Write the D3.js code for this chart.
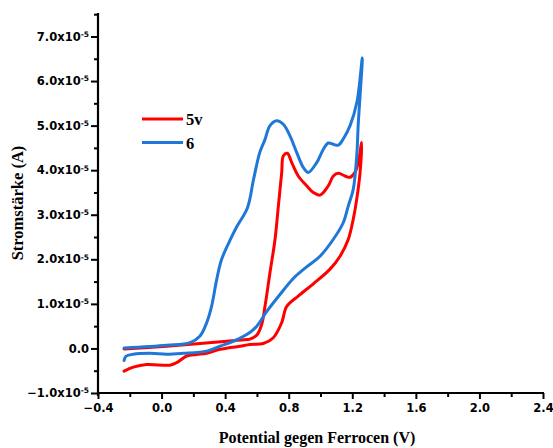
<!DOCTYPE html>
<html>
<head>
<meta charset="utf-8">
<script src="https://cdn.jsdelivr.net/npm/d3@7"></script>
<style>
  body { margin: 0; background: #fff; }
  svg { display: block; }
</style>
</head>
<body>
<div id="chart"></div>
<script>
// current values are in units of 1e-5 A
const potential5v = [-0.236, -0.178, -0.094, 0.053, 0.095, 0.158, 0.221, 0.284, 0.368, 0.493, 0.556, 0.640, 0.703, 0.756, 0.787, 0.858, 0.955, 1.060, 1.123, 1.175, 1.206, 1.228, 1.249, 1.259,
  1.238, 1.217, 1.186, 1.154, 1.112, 1.081, 1.049, 0.997, 0.955, 0.913, 0.860, 0.819, 0.791, 0.766, 0.756, 0.735, 0.714, 0.682, 0.651, 0.630, 0.600, 0.556, 0.536, 0.410, 0.242, 0.032, -0.236];
const current5v = [-0.51, -0.42, -0.36, -0.375, -0.32, -0.17, -0.135, -0.11, -0.02, 0.05, 0.09, 0.11, 0.24, 0.58, 0.94, 1.17, 1.45, 1.78, 2.07, 2.45, 2.90, 3.35, 3.95, 4.62,
  4.17, 3.95, 3.84, 3.87, 3.93, 3.87, 3.65, 3.44, 3.50, 3.65, 3.87, 4.17, 4.38, 4.32, 3.95, 3.20, 2.45, 1.70, 0.95, 0.54, 0.30, 0.21, 0.20, 0.16, 0.11, 0.05, -0.01];

const potential6 = [-0.236, -0.225, -0.178, -0.073, 0.032, 0.137, 0.284, 0.368, 0.451, 0.536, 0.599, 0.662, 0.745, 0.829, 0.913, 0.997, 1.081, 1.143, 1.175, 1.206, 1.228, 1.238, 1.249, 1.263,
  1.230, 1.186, 1.143, 1.112, 1.081, 1.049, 1.018, 0.976, 0.923, 0.892, 0.850, 0.808, 0.766, 0.724, 0.682, 0.650, 0.618, 0.578, 0.540, 0.473, 0.431, 0.378, 0.347, 0.315, 0.284, 0.242, 0.179, 0.032, -0.236];
const current6 = [-0.27, -0.18, -0.13, -0.11, -0.13, -0.11, -0.06, 0.05, 0.16, 0.31, 0.50, 0.83, 1.21, 1.57, 1.83, 2.07, 2.45, 2.82, 3.20, 3.57, 4.32, 5.07, 5.67, 6.52,
  5.54, 5.00, 4.70, 4.56, 4.58, 4.61, 4.47, 4.17, 3.95, 4.06, 4.40, 4.77, 5.03, 5.11, 5.00, 4.68, 4.40, 3.78, 3.15, 2.73, 2.43, 2.00, 1.55, 0.95, 0.58, 0.28, 0.13, 0.07, 0.01];

const seriesNames = ["5v", "6"];
const seriesColors = ["#ff0000", "#1f78d8"];

const xTicks = [-0.4, 0.0, 0.4, 0.8, 1.2, 1.6, 2.0, 2.4];
const xMinor = [-0.2, 0.2, 0.6, 1.0, 1.4, 1.8, 2.2];
const yTicks = [-1, 0, 1, 2, 3, 4, 5, 6, 7];
const yMinor = [-0.5, 0.5, 1.5, 2.5, 3.5, 4.5, 5.5, 6.5, 7.5];

const width = 553, height = 448;

const x = d3.scaleLinear().domain([-0.4, 2.4]).range([98, 543]);
const y = d3.scaleLinear().domain([-1, 7.5]).range([393, 14.2]);

const svg = d3.select("#chart").append("svg")
  .attr("width", width)
  .attr("height", height);

// minor ticks
svg.append("g")
  .attr("transform", "translate(0,393)")
  .call(d3.axisBottom(x).tickValues(xMinor).tickSize(4).tickFormat(""))
  .call(g => g.select(".domain").remove())
  .selectAll("line").attr("stroke-width", 2);
svg.append("g")
  .attr("transform", "translate(98,0)")
  .call(d3.axisLeft(y).tickValues(yMinor).tickSize(4).tickFormat(""))
  .call(g => g.select(".domain").remove())
  .selectAll("line").attr("stroke-width", 2);

// x axis
let xAxis = svg.append("g")
  .attr("transform", "translate(0,393)")
  .call(d3.axisBottom(x).tickValues(xTicks).tickSize(6).tickSizeOuter(0).tickPadding(5)
    .tickFormat(d3.format(".1f")));
xAxis.select(".domain").attr("stroke-width", 2.2).attr("d", "M97,0H544");
xAxis.selectAll("line").attr("stroke-width", 2);
xAxis.selectAll("text")
  .style("font-family", "DejaVu Sans")
  .style("font-weight", "bold")
  .style("font-size", "11.5px")
  .attr("fill", "#000");

// y axis
let yAxis = svg.append("g")
  .attr("transform", "translate(98,0)")
  .call(d3.axisLeft(y).tickValues(yTicks).tickSize(7).tickSizeOuter(0).tickPadding(2).tickFormat(""));
yAxis.select(".domain").attr("stroke-width", 2.2).attr("d", "M0,13H0V396");
yAxis.selectAll("line").attr("stroke-width", 2);
yAxis.selectAll(".tick text")
  .style("font-family", "DejaVu Sans")
  .style("font-weight", "bold")
  .style("font-size", "11.5px")
  .attr("fill", "#000")
  .each(function(d) {
    const t = d3.select(this);
    if (d === 0) {
      t.text("0.0");
    } else {
      t.append("tspan").text(d3.format(".1f")(d) + "x10");
      t.append("tspan").attr("dy", "-0.5em").style("font-size", "7.5px").text("-5");
    }
  });

// curves
const line = d3.line()
  .x(d => x(d[0]))
  .y(d => y(d[1]))
  .curve(d3.curveCatmullRom.alpha(0.5));

const series = [
  d3.zip(potential5v, current5v),
  d3.zip(potential6, current6)
];

svg.selectAll(".cv")
  .data(series)
  .join("path")
  .attr("class", "cv")
  .attr("d", line)
  .attr("fill", "none")
  .attr("stroke", (d, i) => seriesColors[i])
  .attr("stroke-width", 3)
  .attr("stroke-linejoin", "round")
  .attr("stroke-linecap", "round");

// legend
const legend = svg.append("g");
seriesNames.forEach((name, i) => {
  const ly = 119 + i * 23.5;
  legend.append("line")
    .attr("x1", 142).attr("x2", 183)
    .attr("y1", ly).attr("y2", ly)
    .attr("stroke", seriesColors[i])
    .attr("stroke-width", 3);
  legend.append("text")
    .attr("x", 186).attr("y", ly + 6)
    .style("font-family", "Liberation Serif")
    .style("font-weight", "bold")
    .style("font-size", "16.5px")
    .text(name);
});

// axis titles
svg.append("text")
  .attr("x", 317).attr("y", 443)
  .attr("text-anchor", "middle")
  .style("font-family", "Liberation Serif")
  .style("font-weight", "bold")
  .style("font-size", "16px")
  .text("Potential gegen Ferrocen (V)");

svg.append("text")
  .attr("transform", "translate(23,203) rotate(-90)")
  .attr("text-anchor", "middle")
  .style("font-family", "Liberation Serif")
  .style("font-weight", "bold")
  .style("font-size", "16.5px")
  .text("Stromstärke (A)");
</script>
</body>
</html>
